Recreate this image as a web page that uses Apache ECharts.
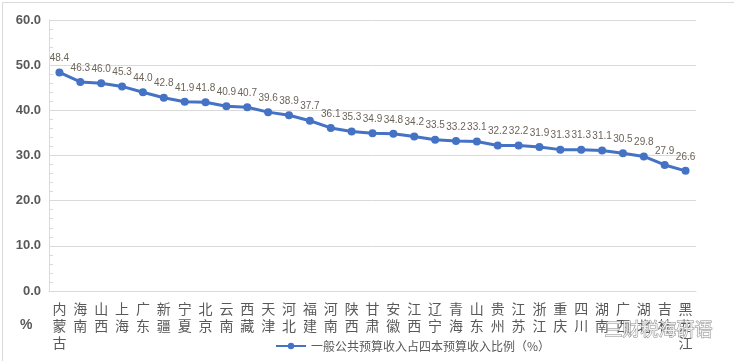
<!DOCTYPE html>
<html><head><meta charset="utf-8">
<script src="https://cdn.jsdelivr.net/npm/echarts@6/dist/echarts.min.js"></script>
<style>html,body{margin:0;padding:0;background:#fff}#c{width:734px;height:361px}</style>
</head><body><div id="c"></div>
<script>
const categories = ['内蒙古','海南','山西','上海','广东','新疆','宁夏','北京','云南','西藏','天津','河北','福建','河南','陕西','甘肃','安徽','江西','辽宁','青海','山东','贵州','江苏','浙江','重庆','四川','湖南','广西','湖北','吉林','黑龙江'];
const values = [48.4,46.3,46.0,45.3,44.0,42.8,41.9,41.8,40.9,40.7,39.6,38.9,37.7,36.1,35.3,34.9,34.8,34.2,33.5,33.2,33.1,32.2,32.2,31.9,31.3,31.3,31.1,30.5,29.8,27.9,26.6];
const seriesName = '一般公共预算收入占四本预算收入比例（%）';
const yUnit = '%';
const watermark = '三财税海研语';

const chart = echarts.init(document.getElementById('c'));
const font = '"Noto Sans CJK SC", "Noto Sans", sans-serif';
chart.setOption({
  animation: false,
  textStyle: {fontFamily: font},
  grid: {left: 49, right: 38, top: 20, bottom: 70, containLabel: false},
  xAxis: {
    type: 'category', data: categories, boundaryGap: true,
    axisLine: {lineStyle: {color: '#d9d9d9', width: 1}},
    axisTick: {show: false},
    axisLabel: {
      interval: 0, margin: 9, color: '#595959', fontSize: 14, lineHeight: 17,
      formatter: v => v.split('').join('\n'), verticalAlign: 'top'
    }
  },
  yAxis: {
    type: 'value', min: 0, max: 60, interval: 10,
    axisLine: {show: true, lineStyle: {color: '#d9d9d9'}},
    axisTick: {show: false, inside: true},
    minorTick: {show: true, splitNumber: 5, length: 4, lineStyle: {color: '#d9d9d9'}},
    axisLabel: {color: '#595959', fontSize: 13, fontWeight: 'bold', margin: 8, formatter: v => v.toFixed(1), fontFamily: '"Liberation Sans", Arial, sans-serif'},
    splitLine: {lineStyle: {color: '#d9d9d9', width: 1}}
  },
  legend: {
    bottom: 4, left: 270, itemWidth: 30, itemHeight: 8, itemGap: 4,
    textStyle: {color: '#595959', fontSize: 12},
    data: [seriesName]
  },
  series: [{
    name: seriesName, type: 'line', data: values,
    symbol: 'circle', symbolSize: 8,
    lineStyle: {color: '#4472C4', width: 3},
    itemStyle: {color: '#4472C4'},
    label: {show: true, position: 'top', distance: 5, color: '#6b6358', fontSize: 10,
      formatter: p => p.value.toFixed(1), fontFamily: '"Liberation Sans", Arial, sans-serif'}
  }],
  graphic: [
    {type: 'rect', left: 0, top: 0, shape: {width: 733, height: 360}, style: {fill: 'none', stroke: '#d9d9d9', lineWidth: 1}, silent: true},
    {type: 'text', left: 20, top: 318, style: {text: yUnit, fill: '#595959', font: 'bold 14px "Liberation Sans", Arial, sans-serif'}},
    {type: 'text', left: 604, top: 320, z: 100, style: {text: watermark, fill: 'rgba(255,255,255,0.85)', stroke: '#8c8c8c', lineWidth: 1, font: '18px ' + font}}
  ]
});
</script></body></html>
